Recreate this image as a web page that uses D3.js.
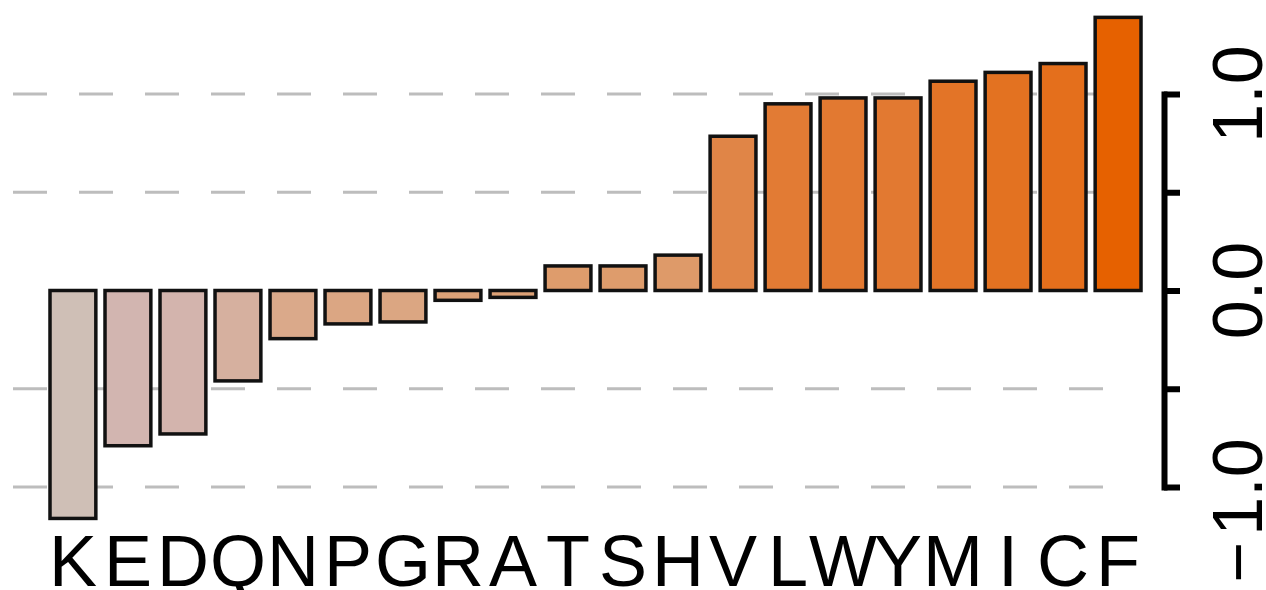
<!DOCTYPE html>
<html>
<head>
<meta charset="utf-8">
<script src="https://cdn.jsdelivr.net/npm/d3@7"></script>
<style>
body { margin: 0; background: #fff; }
text { font-family: "Liberation Sans", Arial, Helvetica, sans-serif; }
</style>
</head>
<body>
<div class="viz"></div>
<script>
// hydrophobicity-style scores, sorted
var residues = ["K", "E", "D", "Q", "N", "P", "G", "R", "A", "T", "S", "H", "V", "L", "W", "Y", "M", "I", "C", "F"];
var scores = [-1.16, -0.79, -0.73, -0.46, -0.245, -0.17, -0.16, -0.05, -0.035, 0.125, 0.125, 0.18, 0.785, 0.95, 0.98, 0.98, 1.065, 1.11, 1.155, 1.39];
var gridValues = [-1, -0.5, 0.5, 1];
var tickValues = [-1, -0.5, 0, 0.5, 1];
var labelValues = [-1, 0, 1];

var width = 1266, height = 590;

var svg = d3.select('.viz').append('svg')
    .attr('width', width)
    .attr('height', height);

var x = d3.scaleBand()
    .domain(residues)
    .range([50, 1141])
    .paddingInner(0.1667)
    .paddingOuter(0);

var y = d3.scaleLinear()
    .domain([-1, 1])
    .range([487, 94]);

var color = d3.scaleLinear()
    .domain([-1.16, -0.79, -0.45, 0, 0.8, 1.39])
    .range(["#cfbfb6", "#d2b5b0", "#d6b09e", "#dea073", "#e08446", "#e66100"]);

// dashed grid behind the bars
svg.append('g').selectAll('line')
    .data(gridValues)
    .enter().append('line')
    .attr('x1', 13)
    .attr('x2', 1105)
    .attr('y1', function(d) { return y(d); })
    .attr('y2', function(d) { return y(d); })
    .attr('stroke', '#bdbdbd')
    .attr('stroke-width', 3)
    .attr('stroke-dasharray', '34,32');

svg.append('g').selectAll('rect')
    .data(residues)
    .enter().append('rect')
    .attr('x', function(d) { return x(d); })
    .attr('width', x.bandwidth())
    .attr('y', function(d, i) { return Math.min(y(scores[i]), y(0)); })
    .attr('height', function(d, i) { return Math.abs(y(scores[i]) - y(0)); })
    .attr('fill', function(d, i) { return color(scores[i]); })
    .attr('stroke', '#111')
    .attr('stroke-width', 3.5);

// residue letters under the bars
svg.append('g').selectAll('text')
    .data(residues)
    .enter().append('text')
    .attr('x', function(d) { return x(d) + x.bandwidth() / 2; })
    .attr('y', 586)
    .attr('text-anchor', 'middle')
    .attr('font-size', 72)
    .attr('fill', '#000')
    .text(function(d) { return d; });

var axis = svg.append('g')
    .attr('transform', 'translate(1164,0)')
    .call(d3.axisRight(y).tickValues(tickValues).tickSize(16).tickSizeOuter(0).tickFormat(''));

axis.selectAll('path, line')
    .attr('stroke', '#000')
    .attr('stroke-width', 6);
axis.select('.domain').attr('stroke-linecap', 'square');

// rotated tick labels: the number is centred on the tick, a minus sits after it
var fmt = d3.format('.1f');
var lab = svg.append('g').selectAll('g')
    .data(labelValues)
    .enter().append('g')
    .attr('transform', function(d) { return 'translate(1262,' + y(d) + ') rotate(-90)'; });

lab.append('text')
    .attr('text-anchor', 'middle')
    .attr('font-size', 70)
    .attr('fill', '#000')
    .text(function(d) { return fmt(Math.abs(d)); });

lab.filter(function(d) { return d < 0; })
    .append('text')
    .attr('x', function() {
        var w = this.parentNode.querySelector('text').getComputedTextLength();
        return -w / 2 - 6;
    })
    .attr('text-anchor', 'end')
    .attr('font-size', 70)
    .attr('fill', '#000')
    .text('\u2212');
</script>
</body>
</html>
